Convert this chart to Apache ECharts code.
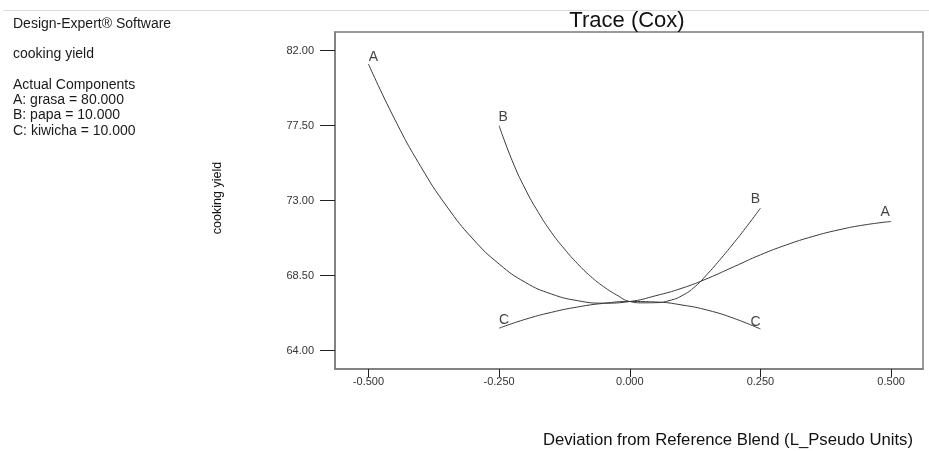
<!DOCTYPE html>
<html>
<head>
<meta charset="utf-8">
<script src="https://cdn.jsdelivr.net/npm/echarts@6/dist/echarts.min.js"></script>
<style>
html,body{margin:0;padding:0;background:#fff;}
#chart{width:929px;height:451px;}
</style>
</head>
<body>
<div id="chart"></div>
<script>
// ---- data ----
const xA = [-0.5,-0.45,-0.4,-0.35,-0.3,-0.25,-0.2,-0.15,-0.1,-0.05,0,0.05,0.1,0.15,0.2,0.25,0.3,0.35,0.4,0.45,0.5];
const yA = [81.2,77.9,75.05,72.65,70.7,69.2,68.1,67.4,67.0,66.85,66.95,67.3,67.75,68.35,69.05,69.75,70.35,70.85,71.25,71.55,71.75];

const xB = [-0.25,-0.225,-0.2,-0.175,-0.15,-0.125,-0.1,-0.075,-0.05,-0.025,0,0.025,0.05,0.075,0.1,0.125,0.15,0.175,0.2,0.225,0.25];
const yB = [77.5,75.4,73.7,72.3,71.1,70.1,69.22,68.46,67.84,67.34,66.95,66.87,66.88,67.0,67.3,67.85,68.65,69.55,70.5,71.5,72.55];

const xC = [-0.25,-0.2,-0.15,-0.1,-0.05,0,0.05,0.1,0.15,0.2,0.25];
const yC = [65.35,65.88,66.3,66.62,66.84,66.95,66.92,66.74,66.42,65.93,65.3];

const curveNames = ['A','B','C'];
const xTicks = [-0.5,-0.25,0,0.25,0.5];
const yTicks = [64,68.5,73,77.5,82];

const infoLines = ['Design-Expert\u00AE Software','cooking yield','Actual Components','A: grasa = 80.000','B: papa = 10.000','C: kiwicha = 10.000'];
const titleText = 'Trace (Cox)';
const xTitle = 'Deviation from Reference Blend (L_Pseudo Units)';
const yTitle = 'cooking yield';

// ---- build ----
const chart = echarts.init(document.getElementById('chart'), null, {renderer:'canvas'});
const zip = (xs, ys) => xs.map((x,i)=>[x, ys[i]]);
const curves = [zip(xA,yA), zip(xB,yB), zip(xC,yC)];

const labelOffsets = [[[5,-7],[-6,-9]],[[4,-9],[-5,-9]],[[5,-8],[-5,-7]]];
const FONT = 'Liberation Sans, Arial, sans-serif';

const series = [];
curves.forEach((d, k) => {
  series.push({
    type:'line', data:d, smooth:0.5, showSymbol:false, silent:true,
    lineStyle:{color:'#3a3a3a', width:1}, z:3
  });
  series.push({
    type:'scatter', symbolSize:0, silent:true, z:4,
    data:[d[0], d[d.length-1]].map((p,j)=>({
      value:p,
      label:{show:true, formatter:curveNames[k], position:labelOffsets[k][j],
        align:'center', verticalAlign:'middle', fontSize:14,
        fontFamily:FONT, color:'#111'}
    }))
  });
});

const infoY = [24,54,85,100,115.5,130.7];
const graphic = [
  {type:'line', shape:{x1:3,y1:10.5,x2:929,y2:10.5}, style:{stroke:'#dcdcdc', lineWidth:1}, silent:true},
  {type:'text', x:627, y:21, style:{text:titleText, fontSize:22, fontFamily:FONT, fill:'#111', align:'center', verticalAlign:'middle'}},
  {type:'text', x:913, y:440, style:{text:xTitle, fontSize:16.7, fontFamily:FONT, fill:'#111', align:'right', verticalAlign:'middle'}},
  {type:'text', x:218, y:198, rotation:Math.PI/2, style:{text:yTitle, fontSize:12.5, fontFamily:FONT, fill:'#111', align:'center', verticalAlign:'middle'}}
];
infoLines.forEach((t,i)=>{
  graphic.push({type:'text', x:13, y:infoY[i], style:{text:t, fontSize:14, fontFamily:FONT, fill:'#1a1a1a', align:'left', verticalAlign:'middle'}});
});

chart.setOption({
  animation:false,
  backgroundColor:'#fff',
  grid:{left:335, top:32, right:6, bottom:82, show:true, borderColor:'#7a7a7a', borderWidth:1.5, backgroundColor:'transparent'},
  xAxis:{
    type:'value', min:-0.564, max:0.561,
    splitLine:{show:false},
    axisLine:{show:true, onZero:false, lineStyle:{color:'#7a7a7a', width:1.5}},
    axisTick:{show:true, inside:false, length:8, customValues:xTicks, lineStyle:{color:'#222', width:1}},
    axisLabel:{show:true, customValues:xTicks, margin:7, fontSize:11, color:'#333',
      fontFamily:FONT, formatter:v=>Number(v).toFixed(3)}
  },
  yAxis:{
    type:'value', min:62.9, max:83.12,
    splitLine:{show:false},
    axisLine:{show:true, onZero:false, lineStyle:{color:'#7a7a7a', width:1.5}},
    axisTick:{show:true, inside:false, length:15, customValues:yTicks, lineStyle:{color:'#222', width:1}},
    axisLabel:{show:true, customValues:yTicks, margin:21, fontSize:11, color:'#333',
      fontFamily:FONT, formatter:v=>Number(v).toFixed(2)}
  },
  graphic:graphic,
  series:series
});
</script>
</body>
</html>
